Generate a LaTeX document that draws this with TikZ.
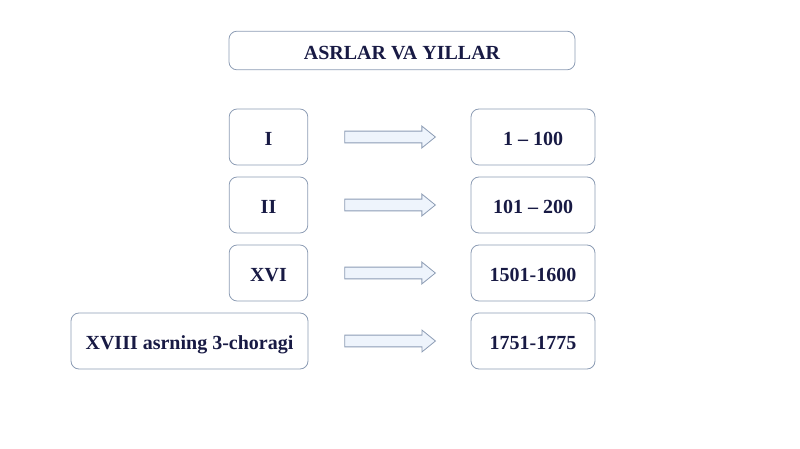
\documentclass[tikz,border=0pt]{standalone}
\usepackage{fontspec}
\setmainfont{Liberation Serif}
\usepackage{tikz}
\usetikzlibrary{shapes.arrows,calc}

\definecolor{boxline}{RGB}{140,156,180}
\definecolor{txtnavy}{RGB}{24,26,68}
\definecolor{arrfill}{RGB}{238,244,252}

\tikzset{
  yearbox/.style={draw=boxline, line width=0.6pt, rounded corners=6pt, fill=white,
    text=txtnavy, font=\fontsize{15}{18}\selectfont\bfseries, inner sep=0pt,
    text height=13pt, text depth=0pt},
  blockarrow/.style={single arrow, draw=boxline, fill=arrfill, line width=0.6pt,
    minimum height=68pt, text height=0pt, text depth=0pt, inner xsep=0pt, inner ysep=4.1pt,
    single arrow head extend=3.8pt, single arrow tip angle=78, xshift=-2.25pt}
}

\begin{document}
\begin{tikzpicture}[x=0.75pt,y=0.75pt,yscale=-1,xscale=1]
  \useasboundingbox (0,0) rectangle (800,449);

  % Title
  \node[yearbox, minimum width=259.5pt, minimum height=29pt] (title) at (402,50.5) {ASRLAR VA YILLAR};

  % Left column
  \node[yearbox, minimum width=59pt, minimum height=42pt] (c1) at (268.5,137) {I};
  \node[yearbox, minimum width=59pt, minimum height=42pt] (c2) at (268.5,205) {II};
  \node[yearbox, minimum width=59pt, minimum height=42pt] (c3) at (268.5,273) {XVI};
  \node[yearbox, minimum width=177.75pt, minimum height=42pt] (c4) at (189.5,341) {XVIII asrning 3-choragi};

  % Right column
  \node[yearbox, minimum width=93pt, minimum height=42pt] (y1) at (533,137) {1 -- 100};
  \node[yearbox, minimum width=93pt, minimum height=42pt] (y2) at (533,205) {101 -- 200};
  \node[yearbox, minimum width=93pt, minimum height=42pt] (y3) at (533,273) {1501-1600};
  \node[yearbox, minimum width=93pt, minimum height=42pt] (y4) at (533,341) {1751-1775};

  % Arrows
  \node[blockarrow] (a1) at ($(c1.east)!0.5!(y1.west)$) {};
  \node[blockarrow] (a2) at ($(c2.east)!0.5!(y2.west)$) {};
  \node[blockarrow] (a3) at ($(c3.east)!0.5!(y3.west)$) {};
  \node[blockarrow] (a4) at ($(c4.east)!0.5!(y4.west)$) {};
\end{tikzpicture}
\end{document}
